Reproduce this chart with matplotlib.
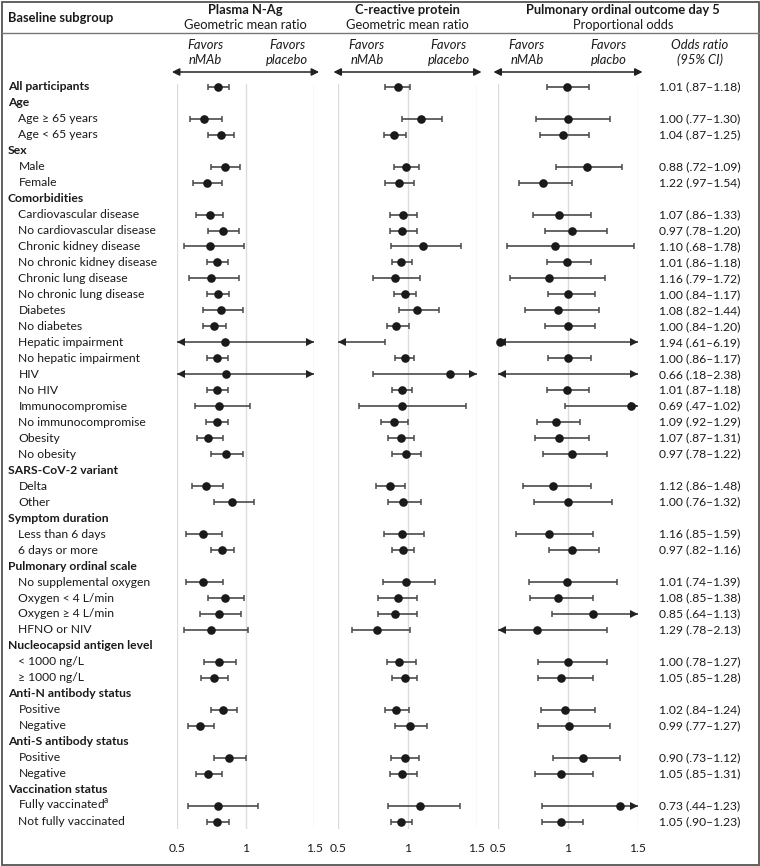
import numpy as np
import matplotlib
matplotlib.use("Agg")
import matplotlib.pyplot as plt
from matplotlib import transforms
from matplotlib.patches import Rectangle, FancyArrowPatch
from matplotlib.lines import Line2D

plt.rcParams['font.family'] = ['Lato', 'DejaVu Sans']
plt.rcParams['mathtext.fontset'] = 'custom'
plt.rcParams['mathtext.rm'] = 'Lato'

INF = np.inf
N = None

# ---------------- data ----------------
row_labels = [
    "All participants", "Age", "Age ≥ 65 years", "Age < 65 years",
    "Sex", "Male", "Female",
    "Comorbidities", "Cardiovascular disease", "No cardiovascular disease",
    "Chronic kidney disease", "No chronic kidney disease",
    "Chronic lung disease", "No chronic lung disease",
    "Diabetes", "No diabetes", "Hepatic impairment", "No hepatic impairment",
    "HIV", "No HIV", "Immunocompromise", "No immunocompromise",
    "Obesity", "No obesity",
    "SARS-CoV-2 variant", "Delta", "Other",
    "Symptom duration", "Less than 6 days", "6 days or more",
    "Pulmonary ordinal scale", "No supplemental oxygen", "Oxygen < 4 L/min",
    "Oxygen ≥ 4 L/min", "HFNO or NIV",
    "Nucleocapsid antigen level", "< 1000 ng/L", "≥ 1000 ng/L",
    "Anti-N antibody status", "Positive", "Negative",
    "Anti-S antibody status", "Positive", "Negative",
    "Vaccination status", "Fully vaccinated$^{\\rm a}$", "Not fully vaccinated",
]
bold_rows = ["All participants", "Age", "Sex", "Comorbidities", "SARS-CoV-2 variant",
             "Symptom duration", "Pulmonary ordinal scale", "Nucleocapsid antigen level",
             "Anti-N antibody status", "Anti-S antibody status", "Vaccination status"]

# Plasma N-Ag geometric mean ratio (off-scale bounds as +/-inf)
nag_est = [0.80, N, 0.70, 0.82, N, 0.85, 0.72, N, 0.74, 0.84, 0.74, 0.79, 0.75, 0.80,
           0.82, 0.77, 0.85, 0.79, 0.86, 0.79, 0.81, 0.79, 0.73, 0.86, N, 0.71, 0.90,
           N, 0.69, 0.83, N, 0.69, 0.85, 0.81, 0.75, N, 0.81, 0.77, N, 0.84, 0.67,
           N, 0.88, 0.73, N, 0.80, 0.79]
nag_lo = [0.73, N, 0.60, 0.73, N, 0.75, 0.62, N, 0.64, 0.73, 0.55, 0.72, 0.59, 0.72,
          0.69, 0.69, -INF, 0.72, -INF, 0.72, 0.63, 0.71, 0.65, 0.75, N, 0.61, 0.77,
          N, 0.57, 0.75, N, 0.57, 0.73, 0.67, 0.55, N, 0.70, 0.68, N, 0.75, 0.58,
          N, 0.77, 0.64, N, 0.58, 0.72]
nag_hi = [0.88, N, 0.83, 0.92, N, 0.96, 0.83, N, 0.84, 0.95, 0.99, 0.87, 0.95, 0.88,
          0.98, 0.86, INF, 0.87, INF, 0.87, 1.03, 0.87, 0.84, 0.98, N, 0.84, 1.06,
          N, 0.83, 0.92, N, 0.84, 0.99, 0.97, 1.02, N, 0.93, 0.87, N, 0.94, 0.77,
          N, 1.00, 0.83, N, 1.09, 0.88]

# C-reactive protein geometric mean ratio
crp_est = [0.93, N, 1.10, 0.90, N, 0.99, 0.94, N, 0.97, 0.96, 1.11, 0.95, 0.91, 0.98,
           1.07, 0.92, -INF, 0.98, 1.31, 0.96, 0.96, 0.90, 0.95, 0.99, N, 0.87, 0.97,
           N, 0.96, 0.97, N, 0.99, 0.93, 0.91, 0.78, N, 0.94, 0.98, N, 0.92, 1.02,
           N, 0.98, 0.96, N, 1.09, 0.95]
crp_lo = [0.84, N, 0.96, 0.83, N, 0.90, 0.84, N, 0.87, 0.87, 0.88, 0.89, 0.75, 0.90,
          0.94, 0.85, -INF, 0.91, 0.75, 0.89, 0.65, 0.81, 0.86, 0.89, N, 0.77, 0.86,
          N, 0.83, 0.89, N, 0.82, 0.79, 0.79, 0.60, N, 0.85, 0.89, N, 0.84, 0.91,
          N, 0.88, 0.87, N, 0.86, 0.88]
crp_hi = [1.02, N, 1.25, 0.99, N, 1.08, 1.05, N, 1.07, 1.07, 1.39, 1.03, 1.09, 1.06,
          1.23, 1.01, 0.84, 1.05, INF, 1.03, 1.42, 1.00, 1.05, 1.10, N, 0.98, 1.10,
          N, 1.12, 1.05, N, 1.20, 1.07, 1.07, 1.02, N, 1.06, 1.07, N, 1.01, 1.14,
          N, 1.08, 1.07, N, 1.38, 1.03]

# Pulmonary ordinal outcome day 5: odds ratio (95% CI) as tabulated
or_est = [1.01, N, 1.00, 1.04, N, 0.88, 1.22, N, 1.07, 0.97, 1.10, 1.01, 1.16, 1.00,
          1.08, 1.00, 1.94, 1.00, 0.66, 1.01, 0.69, 1.09, 1.07, 0.97, N, 1.12, 1.00,
          N, 1.16, 0.97, N, 1.01, 1.08, 0.85, 1.29, N, 1.00, 1.05, N, 1.02, 0.99,
          N, 0.90, 1.05, N, 0.73, 1.05]
or_lo = [0.87, N, 0.77, 0.87, N, 0.72, 0.97, N, 0.86, 0.78, 0.68, 0.86, 0.79, 0.84,
         0.82, 0.84, 0.61, 0.86, 0.18, 0.87, 0.47, 0.92, 0.87, 0.78, N, 0.86, 0.76,
         N, 0.85, 0.82, N, 0.74, 0.85, 0.64, 0.78, N, 0.78, 0.85, N, 0.84, 0.77,
         N, 0.73, 0.85, N, 0.44, 0.90]
or_hi = [1.18, N, 1.30, 1.25, N, 1.09, 1.54, N, 1.33, 1.20, 1.78, 1.18, 1.72, 1.17,
         1.44, 1.20, 6.19, 1.17, 2.38, 1.18, 1.02, 1.29, 1.31, 1.22, N, 1.48, 1.32,
         N, 1.59, 1.16, N, 1.39, 1.38, 1.13, 2.13, N, 1.27, 1.28, N, 1.24, 1.27,
         N, 1.12, 1.31, N, 1.23, 1.23]

xticks = [0.5, 1, 1.5]
xtick_labels = ["0.5", "1", "1.5"]

# ---------------- figure ----------------
W, H = 760, 866
fig = plt.figure(figsize=(W / 100, H / 100), dpi=100)

FS = 8.75
FS_TITLE = 9.3
FS_IT = 9.4
TXT = '#1a1a1a'
LINE = '#4a4a4a'
GRID = '#dcdcdc'

def ax_at(x0, x1, y0=84, y1=829):
    return fig.add_axes([x0 / W, 1 - y1 / H, (x1 - x0) / W, (y1 - y0) / H])

n = len(row_labels)
ax_nag = ax_at(176.7, 314.3)
ax_crp = ax_at(338.3, 476.7)
ax_pul = ax_at(498.3, 637.7)

def fmt_ci(v):
    s = f"{v:.2f}"
    return s[1:] if s.startswith("0") else s

MS = 6.0  # arrow marker size (points)

def draw_panel(ax, est, lo, hi):
    ax.set_xlim(0.5, 1.5)
    ax.set_ylim(46.457, -0.169)
    for s in ax.spines.values():
        s.set_visible(False)
    ax.set_yticks([])
    ax.set_xticks(xticks)
    ax.set_xticklabels(xtick_labels, fontsize=FS, color=TXT)
    ax.tick_params(axis='x', length=0, pad=10)
    ax.patch.set_alpha(0)
    for xv in xticks:
        ax.axvline(xv, color=GRID, lw=1.0, zorder=0)
    left_tr = transforms.offset_copy(ax.transData, fig=fig, x=MS / 2, units='points')
    right_tr = transforms.offset_copy(ax.transData, fig=fig, x=-MS / 2, units='points')
    for i in range(n):
        if est[i] is None:
            continue
        e, l, h = est[i], lo[i], hi[i]
        l_cl, h_cl = max(l, 0.5), min(h, 1.5)
        ax.plot([l_cl, h_cl], [i, i], color=LINE, lw=1.2, solid_capstyle='butt',
                zorder=2, clip_on=False)
        if l >= 0.5:
            ax.plot([l], [i], marker='|', ms=5, mew=1.1, color=LINE, zorder=2, clip_on=False)
        else:
            ax.plot([0.5], [i], marker='<', ms=MS, color='#222222', mew=0,
                    transform=left_tr, zorder=3, clip_on=False)
        if h <= 1.5:
            ax.plot([h], [i], marker='|', ms=5, mew=1.1, color=LINE, zorder=2, clip_on=False)
        else:
            ax.plot([1.5], [i], marker='>', ms=MS, color='#222222', mew=0,
                    transform=right_tr, zorder=3, clip_on=False)
        if 0.5 <= e <= 1.5:
            ax.plot([e], [i], marker='o', ms=6.2, color='#1a1a1a', mew=0, zorder=4,
                    clip_on=False)
    # header arrow
    y_arrow = -0.92
    ax.add_patch(FancyArrowPatch((0.465, y_arrow), (1.535, y_arrow), arrowstyle='<|-|>',
                                 mutation_scale=11, color='#222222', lw=1.1,
                                 shrinkA=0, shrinkB=0, clip_on=False))

draw_panel(ax_nag, nag_est, nag_lo, nag_hi)
draw_panel(ax_crp, crp_est, crp_lo, crp_hi)
pul_est = [None if v is None else 1 / v for v in or_est]
pul_lo = [None if v is None else 1 / v for v in or_hi]
pul_hi = [None if v is None else 1 / v for v in or_lo]
draw_panel(ax_pul, pul_est, pul_lo, pul_hi)

# row labels
row_tr = transforms.blended_transform_factory(fig.transFigure, ax_nag.transData)
for i, lab in enumerate(row_labels):
    if lab in bold_rows:
        fig.text(8 / W, i, lab, transform=row_tr, fontsize=FS, fontweight='bold',
                 color=TXT, va='center', ha='left')
    else:
        fig.text(18.5 / W, i, lab, transform=row_tr, fontsize=FS, color=TXT,
                 va='center', ha='left')
    if or_est[i] is not None:
        s = f"{or_est[i]:.2f} ({fmt_ci(or_lo[i])}–{fmt_ci(or_hi[i])})"
        fig.text(699.5 / W, i, s, transform=row_tr, fontsize=FS, color=TXT,
                 va='center', ha='center')

def ftext(x, y, s, **kw):
    kw.setdefault('fontsize', FS)
    kw.setdefault('color', TXT)
    fig.text(x / W, 1 - y / H, s, va='center', **kw)

# headers
ftext(8, 18, "Baseline subgroup", ha='left', fontweight='bold', fontsize=FS_TITLE)
for cx, title, sub in [(245.5, "Plasma N-Ag", "Geometric mean ratio"),
                       (407.5, "C-reactive protein", "Geometric mean ratio"),
                       (623, "Pulmonary ordinal outcome day 5", "Proportional odds")]:
    ftext(cx, 9.5, title, ha='center', fontweight='bold', fontsize=FS_TITLE)
    ftext(cx, 25, sub, ha='center', fontsize=FS_TITLE)

for x0, right_word in [(176.7, "placebo"), (338.3, "placebo"), (498.3, "placbo")]:
    ftext(x0 + 28.5, 45, "Favors", ha='center', style='italic', fontsize=FS_IT)
    ftext(x0 + 28.5, 60, "nMAb", ha='center', style='italic', fontsize=FS_IT)
    ftext(x0 + 110.5, 45, "Favors", ha='center', style='italic', fontsize=FS_IT)
    ftext(x0 + 110.5, 60, right_word, ha='center', style='italic', fontsize=FS_IT)
ftext(700, 45, "Odds ratio", ha='center', style='italic', fontsize=FS_IT)
ftext(700, 60, "(95% CI)", ha='center', style='italic', fontsize=FS_IT)

# frame and separator
fig.add_artist(Rectangle((1.5 / W, 1.5 / H), (W - 3) / W, (H - 3) / H,
                         transform=fig.transFigure, fill=False, ec='#555555', lw=1.3))
fig.add_artist(Line2D([1.5 / W, (W - 1.5) / W], [1 - 33 / H, 1 - 33 / H],
                      transform=fig.transFigure, color='#777777', lw=1.0))

fig.savefig("out.png", dpi=100)
